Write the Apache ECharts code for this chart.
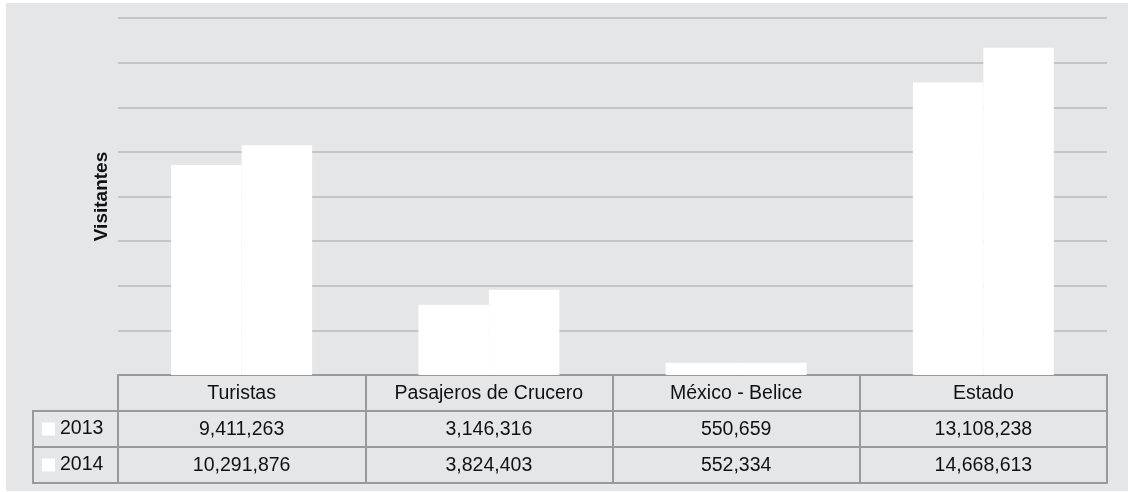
<!DOCTYPE html>
<html>
<head>
<meta charset="utf-8">
<script src="https://cdn.jsdelivr.net/npm/echarts@6/dist/echarts.min.js"></script>
<style>
  html, body { margin: 0; padding: 0; background: #ffffff; }
  #bg { position: absolute; left: 6px; top: 3px; width: 1122px; height: 488px; background: #e5e6e8; }
  #chart { position: absolute; left: 0; top: 0; width: 1128px; height: 492px; }
</style>
</head>
<body>
<div id="bg"></div>
<div id="chart"></div>
<script>
const categories = ["Turistas", "Pasajeros de Crucero", "México - Belice", "Estado"];
const years = ["2013", "2014"];
const visitors2013 = [9411263, 3146316, 550659, 13108238];
const visitors2014 = [10291876, 3824403, 552334, 14668613];

const fmt = (n) => n.toLocaleString("en-US");
const border = "#999999";
const font = "Liberation Sans, Arial, sans-serif";
const fontSize = 19.5;

const chart = echarts.init(document.getElementById("chart"));

// table rows are extra x axes stacked under the grid
function tableAxis(labels, offset) {
  return {
    type: "category",
    data: labels,
    position: "bottom",
    offset: offset,
    axisLine: { show: true, lineStyle: { color: border, width: 2 } },
    axisTick: { show: false },
    axisLabel: {
      show: labels.length > 0,
      interval: 0,
      margin: 9,
      color: "#111",
      fontSize: fontSize,
      fontFamily: font,
    },
  };
}

const option = {
  animation: false,
  backgroundColor: "transparent",
  grid: { left: 118, right: 21, top: 18, bottom: 117, containLabel: false },
  legend: {
    data: years,
    orient: "vertical",
    left: 42,
    top: 419,
    padding: 0,
    itemGap: 16,
    itemWidth: 13,
    itemHeight: 13,
    icon: "rect",
    selectedMode: false,
    textStyle: { fontSize: fontSize, fontFamily: font, color: "#111", lineHeight: 20 },
  },
  xAxis: [
    {
      type: "category",
      data: categories,
      position: "bottom",
      axisLine: { show: true, lineStyle: { color: border, width: 2 } },
      axisTick: { show: true, interval: 0, length: 108, lineStyle: { color: border, width: 2 } },
      axisLabel: { interval: 0, margin: 9, color: "#111", fontSize: fontSize, fontFamily: font },
    },
    tableAxis(visitors2013.map(fmt), 36),
    tableAxis(visitors2014.map(fmt), 72),
    Object.assign(tableAxis(categories, 108), { axisLabel: { show: false } }),
  ],
  yAxis: {
    type: "value",
    min: 0,
    max: 16000000,
    interval: 2000000,
    name: "Visitantes",
    nameLocation: "middle",
    nameRotate: 90,
    nameGap: 7,
    nameTextStyle: { fontSize: 19, fontWeight: "bold", fontFamily: font, color: "#111" },
    axisLine: { show: false },
    axisTick: { show: false },
    axisLabel: { show: false },
    splitLine: { lineStyle: { color: "#b9babc", width: 1.5 } },
  },
  series: [
    {
      name: years[0],
      type: "bar",
      data: visitors2013,
      barGap: "0%",
      barCategoryGap: "43%",
      itemStyle: { color: "#ffffff" },
    },
    {
      name: years[1],
      type: "bar",
      data: visitors2014,
      barGap: "0%",
      barCategoryGap: "43%",
      itemStyle: { color: "#ffffff" },
    },
  ],
  graphic: [
    {
      type: "rect",
      shape: { x: 33, y: 411, width: 85, height: 72 },
      style: { fill: "none", stroke: border, lineWidth: 2 },
    },
    {
      type: "line",
      shape: { x1: 33, y1: 447, x2: 118, y2: 447 },
      style: { stroke: border, lineWidth: 2 },
    },
  ],
};

chart.setOption(option);
</script>
</body>
</html>
